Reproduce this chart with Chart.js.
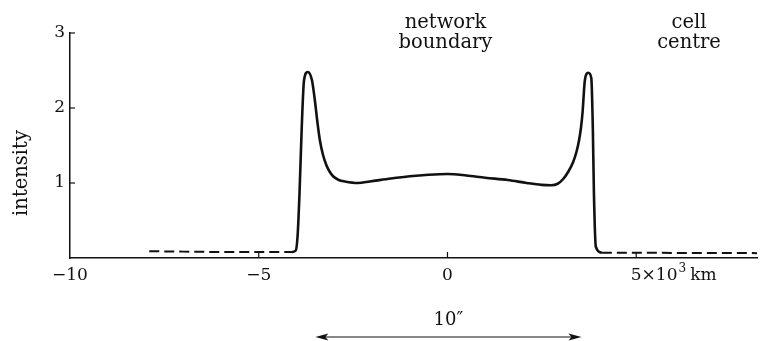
<!DOCTYPE html>
<html>
<head>
<meta charset="utf-8">
<script src="https://cdn.jsdelivr.net/npm/chart.js@4/dist/chart.umd.min.js"></script>
<style>
  html, body { margin: 0; padding: 0; background: #fff; }
  #wrap { width: 763px; height: 341px; position: relative; }
</style>
</head>
<body>
<div id="wrap"><canvas id="profile" width="763" height="341"></canvas></div>
<script>
// distance in 10^3 km, intensity in arbitrary units
const dashLeftX = [-7.9, -7, -6, -5, -4.5, -4.12];
const dashLeftY = [0.09, 0.085, 0.08, 0.08, 0.08, 0.08];

const curveX = [-4.12, -4.02, -3.97, -3.92, -3.86, -3.8, -3.7, -3.59, -3.52, -3.45, -3.38, -3.3, -3.21, -3.12, -3.03, -2.88, -2.72, -2.37, -2.06, -1.5, -1.0, -0.5, 0, 0.5, 1.0, 1.6, 2.1, 2.49, 2.75, 2.92, 3.06, 3.2, 3.33, 3.42, 3.49, 3.54, 3.58, 3.64, 3.73, 3.81, 3.85, 3.88, 3.93, 4.09];
const curveY = [0.08, 0.1, 0.3, 0.86, 1.75, 2.37, 2.48, 2.37, 2.13, 1.83, 1.57, 1.38, 1.24, 1.15, 1.09, 1.04, 1.02, 1.0, 1.02, 1.06, 1.09, 1.11, 1.12, 1.1, 1.07, 1.04, 1.0, 0.975, 0.97, 0.99, 1.05, 1.15, 1.28, 1.42, 1.58, 1.75, 1.95, 2.37, 2.47, 2.4, 1.75, 0.86, 0.15, 0.07];

const dashRightX = [4.09, 5, 6, 7, 8.2];
const dashRightY = [0.07, 0.07, 0.068, 0.066, 0.065];

const yTicks = [1, 2, 3];
const xTicks = [-10, -5, 0, 5];
const xTickLabels = ['\u221210', '\u22125', '0', '5'];
const arrowSpan = [-3.5, 3.55];

const SERIF = '"DejaVu Serif", "Liberation Serif", serif';
const INK = '#111';

const toPoints = (xs, ys) => xs.map((x, i) => ({x: x, y: ys[i]}));

// tick marks, x labels, annotations and the scale arrow
const decorations = {
  id: 'decorations',
  afterDraw(chart) {
    const ctx = chart.ctx;
    const xs = chart.scales.x, ys = chart.scales.y;
    const left = chart.chartArea.left, bottom = chart.chartArea.bottom;
    ctx.save();
    ctx.strokeStyle = INK;
    ctx.fillStyle = INK;
    ctx.lineWidth = 1.2;

    yTicks.forEach(v => {
      const py = ys.getPixelForValue(v);
      ctx.beginPath();
      ctx.moveTo(left, py);
      ctx.lineTo(left + 5, py);
      ctx.stroke();
    });
    xTicks.forEach(v => {
      if (v === xs.min) return;
      const px = xs.getPixelForValue(v);
      ctx.beginPath();
      ctx.moveTo(px, bottom);
      ctx.lineTo(px, bottom - 6);
      ctx.stroke();
    });

    ctx.font = '17px ' + SERIF;
    ctx.textBaseline = 'middle';
    ctx.textAlign = 'center';
    xTicks.forEach((v, i) => {
      const px = xs.getPixelForValue(v);
      if (v === 5) {
        // "5×10³ km" starts with the 5 centred on its tick
        ctx.textAlign = 'left';
        let x = px - ctx.measureText('5').width / 2;
        ctx.fillText('5\u00d710', x, bottom + 18);
        x += ctx.measureText('5\u00d710').width;
        ctx.font = '12px ' + SERIF;
        ctx.fillText('3', x + 1, bottom + 11);
        x += ctx.measureText('3').width + 5;
        ctx.font = '17px ' + SERIF;
        ctx.fillText('km', x, bottom + 18);
        ctx.textAlign = 'center';
      } else {
        ctx.fillText(xTickLabels[i], px, bottom + 18);
      }
    });

    ctx.font = '19.5px ' + SERIF;
    ctx.textAlign = 'center';
    const nb = xs.getPixelForValue(0);
    ctx.fillText('network', nb - 2, 23);
    ctx.fillText('boundary', nb - 2, 43);
    const cc = xs.getPixelForValue(6.4);
    ctx.fillText('cell', cc, 23);
    ctx.fillText('centre', cc, 43);

    ctx.save();
    ctx.translate(22, 173);
    ctx.rotate(-Math.PI / 2);
    ctx.fillText('intensity', 0, 0);
    ctx.restore();

    // 10 arcsec scale bar
    const a0 = xs.getPixelForValue(arrowSpan[0]);
    const a1 = xs.getPixelForValue(arrowSpan[1]);
    const ay = 337;
    ctx.lineWidth = 1.2;
    ctx.beginPath();
    ctx.moveTo(a0 + 6, ay);
    ctx.lineTo(a1 - 6, ay);
    ctx.stroke();
    [[a0, 1], [a1, -1]].forEach(([p, d]) => {
      ctx.beginPath();
      ctx.moveTo(p, ay);
      ctx.lineTo(p + d * 13, ay - 3.5);
      ctx.lineTo(p + d * 10, ay);
      ctx.lineTo(p + d * 13, ay + 3.5);
      ctx.closePath();
      ctx.fill();
    });
    ctx.font = '18px ' + SERIF;
    ctx.fillText('10\u2033', (a0 + a1) / 2, 320);
    ctx.restore();
  }
};

new Chart(document.getElementById('profile'), {
  type: 'scatter',
  data: {
    datasets: [
      {
        data: toPoints(dashLeftX, dashLeftY),
        showLine: true, borderColor: INK, borderWidth: 2,
        borderDash: [10, 5], pointRadius: 0
      },
      {
        data: toPoints(curveX, curveY),
        showLine: true, borderColor: INK, borderWidth: 2.6,
        cubicInterpolationMode: 'monotone', pointRadius: 0
      },
      {
        data: toPoints(dashRightX, dashRightY),
        showLine: true, borderColor: INK, borderWidth: 2,
        borderDash: [10, 5], pointRadius: 0
      }
    ]
  },
  options: {
    responsive: false,
    animation: false,
    devicePixelRatio: 1,
    layout: { padding: { left: 0, right: 6, top: 33, bottom: 0 } },
    plugins: { legend: { display: false }, tooltip: { enabled: false } },
    scales: {
      x: {
        type: 'linear', min: -10, max: 8.2,
        grid: { display: false },
        border: { display: true, color: INK, width: 1.5 },
        ticks: { display: false },
        afterFit: s => { s.height = 83; }
      },
      y: {
        min: 0, max: 3,
        grid: { display: false, drawTicks: false },
        border: { display: true, color: INK, width: 1.5 },
        ticks: {
          stepSize: 1, padding: 5, color: INK,
          font: { family: SERIF, size: 17 },
          callback: v => (v === 0 ? '' : v)
        },
        afterFit: s => { s.width = 70; }
      }
    }
  },
  plugins: [decorations]
});
</script>
</body>
</html>
